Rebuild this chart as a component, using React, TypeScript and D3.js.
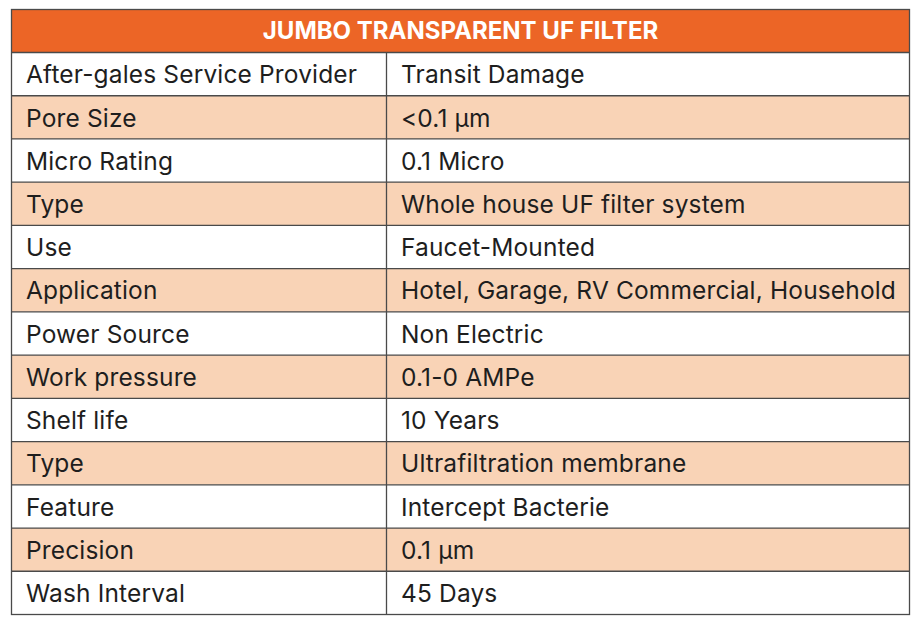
import { useEffect, useRef } from "react"
import * as d3 from "d3"

const title = "JUMBO TRANSPARENT UF FILTER"
const labels = [
  "After-gales Service Provider", "Pore Size", "Micro Rating", "Type", "Use",
  "Application", "Power Source", "Work pressure", "Shelf life", "Type",
  "Feature", "Precision", "Wash Interval",
]
const values = [
  "Transit Damage", "<0.1 µm", "0.1 Micro", "Whole house UF filter system", "Faucet-Mounted",
  "Hotel, Garage, RV Commercial, Household", "Non Electric", "0.1-0 AMPe", "10 Years",
  "Ultrafiltration membrane", "Intercept Bacterie", "0.1 µm", "45 Days",
]

export default function App() {
  const ref = useRef<SVGSVGElement>(null)

  useEffect(() => {
    const width = 919, height = 625
    const left = 11.5, right = 909.5, top = 9.5, headerBottom = 52.5, bottom = 614.5
    const colX = 386.5
    const border = '#4a4a4a'
    const font = "Inter, 'Noto Sans', sans-serif"

    const svg = d3.select(ref.current)
    svg.selectAll('*').remove()
    svg.attr('width', width).attr('height', height)

    svg.append('rect').attr('width', width).attr('height', height).attr('fill', '#ffffff')

    const y = d3.scaleBand<number>()
      .domain(d3.range(labels.length))
      .range([headerBottom, bottom])

    // header
    svg.append('rect')
      .attr('x', left).attr('y', top)
      .attr('width', right - left).attr('height', headerBottom - top)
      .attr('fill', '#ec6526')
    svg.append('text')
      .attr('x', (left + right) / 2).attr('y', (top + headerBottom) / 2 + 1.5)
      .attr('text-anchor', 'middle').attr('dominant-baseline', 'middle')
      .attr('fill', 'white').attr('font-weight', 700)
      .style('font-family', font).style('font-size', '24px')
      .text(title)

    const rows = svg.append('g')
      .selectAll('g')
      .data(labels)
      .join('g')
      .attr('transform', (d, i) => `translate(0, ${y(i)})`)

    rows.append('rect')
      .attr('x', left).attr('width', right - left)
      .attr('height', y.bandwidth())
      .attr('fill', (d, i) => i % 2 === 1 ? '#f9d3b6' : '#ffffff')

    const cellText = (sel, x, fn) => sel.append('text')
      .attr('x', x).attr('y', y.bandwidth() / 2 + 2.5)
      .attr('dominant-baseline', 'middle')
      .attr('fill', '#1e1e1e')
      .style('font-family', font).style('font-size', '24.5px')
      .style('letter-spacing', '0.15px')
      .text(fn)

    cellText(rows, 26, (d) => d)
    cellText(rows, 401, (d, i) => values[i])

    // grid lines
    const lines = svg.append('g').attr('stroke', border).attr('stroke-width', 1.3).attr('fill', 'none')
    d3.range(1, labels.length).forEach((i) => {
      const yy = y(i) as number
      lines.append('line').attr('x1', left).attr('x2', right).attr('y1', yy).attr('y2', yy)
    })
    lines.append('line').attr('x1', left).attr('x2', right).attr('y1', headerBottom).attr('y2', headerBottom)
    lines.append('line').attr('x1', colX).attr('x2', colX).attr('y1', headerBottom).attr('y2', bottom)
    lines.append('rect').attr('x', left).attr('y', top).attr('width', right - left).attr('height', bottom - top)
  }, [])

  return (
    <div style={{ position: 'absolute', left: 0, top: 0 }}>
      <svg ref={ref}></svg>
    </div>
  )
}
